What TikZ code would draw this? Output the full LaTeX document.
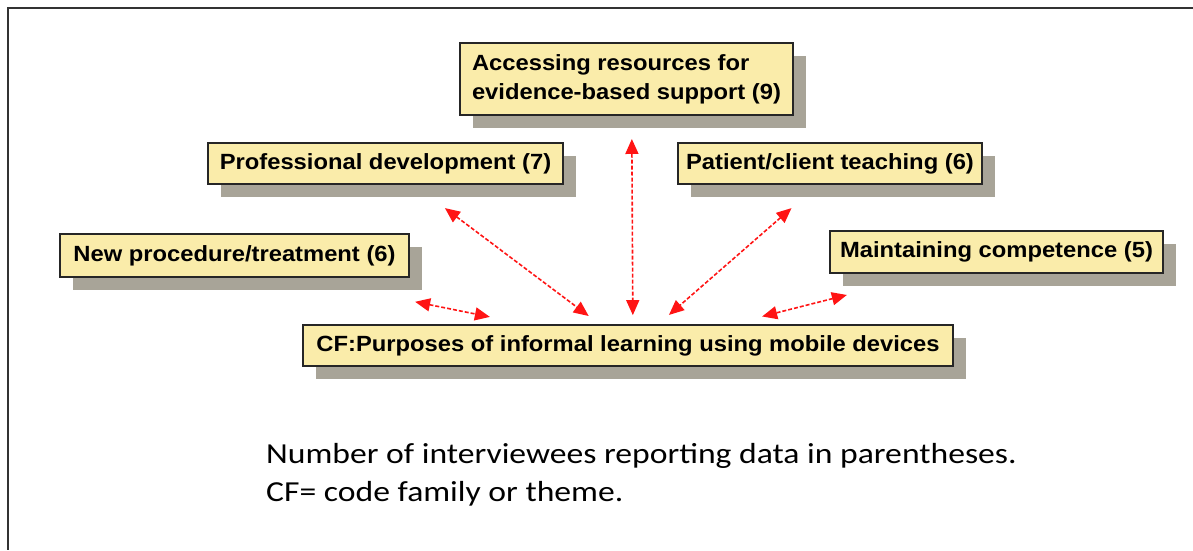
\documentclass[tikz,border=0pt]{standalone}
\usepackage{fontspec}
\usepackage{xcolor}
\usetikzlibrary{
    arrows.meta,
    shadows,
    calc,
    positioning
}
\newfontfamily\boxfont{Liberation Sans}[FakeStretch=1.08]
\newfontfamily\notefont{Carlito}[FakeStretch=1.16]
\definecolor{boxfill}{RGB}{250,236,170}
\definecolor{boxshade}{RGB}{168,164,152}
\definecolor{linkred}{RGB}{255,20,20}

\begin{document}
\begin{tikzpicture}[x=1pt, y=-1pt,
                        code/.style={draw=black!85, line width=1.8pt, fill=boxfill, inner sep=0pt,
                            font=\boxfont\bfseries\fontsize{22}{29}\selectfont,
                            drop shadow={shadow xshift=13pt, shadow yshift=-13pt, fill=boxshade, opacity=1}},
                        link/.style={linkred, line width=1.6pt, dash pattern=on 4pt off 2pt,
                            {Triangle[length=15pt,width=13pt]}-{Triangle[length=15pt,width=13pt]}},
                        note/.style={font=\notefont\fontsize{29}{37}\selectfont, inner sep=0pt}]
                        \useasboundingbox (0, 0) rectangle (1193, 550);
                        \draw[black!80, line width=2.5pt] (1193, 8) -- (8, 8) -- (8, 550);

                        \node[code, minimum width=333, minimum height=72, align=left] (acc) at (626.5, 79)
                            {Accessing resources for\\evidence-based support (9)};
                        \node[code, minimum width=355, minimum height=41] (prof) at (385.5, 163.5) {Professional development (7)};
                        \node[code, minimum width=304, minimum height=41] (pat) at (830, 163.5) {Patient/client teaching (6)};
                        \node[code, minimum width=349, minimum height=43] (new) at (234.5, 255.5) {New procedure/treatment (6)};
                        \node[code, minimum width=333, minimum height=42] (maint) at (996.5, 252) {Maintaining competence (5)};
                        \node[code, minimum width=650, minimum height=41] (cf) at (628, 345.5)
                            {CF:Purposes of informal learning using mobile devices};

                        \node[note, anchor=base west] (note1) at (266, 463) {Number of interviewees reporting data in parentheses.};
                        \node[note, anchor=base west] (note2) at ([yshift=-38pt]note1.base west) {CF= code family or theme.};

                        \draw
                        ($(new)!0.459!(cf)+(0, 5)$) edge[link] ($(new)!0.649!(cf)+(0, 3)$)
                        ($(prof)!0.245!(cf)$) edge[link] ($(prof)!0.838!(cf)$)
                        ($(acc)!0.225!(cf)+(5, 0)$) edge[link] ($(acc)!0.886!(cf)+(5, 0)$)
                        ($(pat)!0.245!(cf)+(11, 0)$) edge[link] ($(pat)!0.832!(cf)+(7, 0)$)
                        ($(maint)!0.406!(cf)+(0, 5)$) edge[link] ($(maint)!0.636!(cf)+(0, 5)$);
                    \end{tikzpicture}
\end{document}
